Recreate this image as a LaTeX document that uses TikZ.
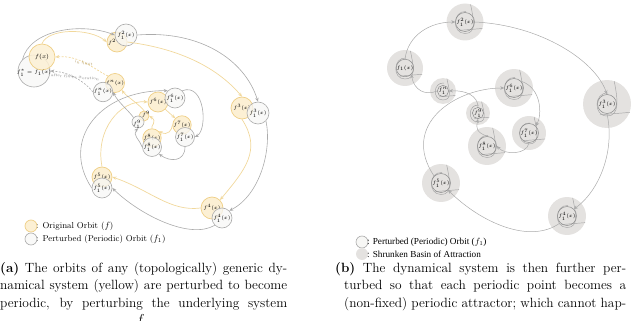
\documentclass[tikz,border=0pt]{standalone}
\usepackage{fontspec}
\newfontfamily\legfont{Liberation Serif}
\usetikzlibrary{arrows.meta}
\definecolor{yfill}{HTML}{FCF0D4}
\definecolor{ydraw}{HTML}{EFCF86}
\definecolor{yline}{HTML}{F1D89C}
\definecolor{gdraw}{HTML}{ABABAB}
\definecolor{gfill}{HTML}{F7F7F5}
\definecolor{gline}{HTML}{ABABAB}
\definecolor{bfill}{HTML}{E4E2E0}
\definecolor{bline}{HTML}{8C8C8C}
\newcommand\lblfont{\fontsize{5.5}{6}\selectfont}
\newcommand\smlfont{\fontsize{4}{4.5}\selectfont}
\newcommand\tinyfont{\fontsize{3.3}{3.5}\selectfont}
\newcommand\capfont{\fontsize{13.4}{16}\selectfont}
\newcommand\basin[6]{%
  \fill[bfill] (#2,#3) circle[radius=#4];
  \draw[squig] ({#2+0.3*#4},{#3-0.95*#4}) .. controls ({#2+0.45*#4},{#3-0.2*#4}) and ({#2+#5+5},{#3+#5+4}) .. ({#2},{#3+#5+4}) .. controls ({#2-#5-6},{#3+#5+4}) and ({#2-#5-5},{#3-#5-4}) .. ({#2+1},{#3-#5-3});
  \draw[squig] ({#2+0.95*#4},{#3+0.35*#4}) -- ({#2-0.3*#4},{#3+0.45*#4});
  \node[icirc, minimum size=2*#5pt] (#1) at (#2,#3) {#6};
}
\begin{document}
\begin{tikzpicture}[x=1pt,y=-1pt,
  ycirc/.style={circle, draw=ydraw, fill=yfill, line width=0.7pt, inner sep=0pt, font=\lblfont},
  gcirc/.style={circle, draw=gdraw, fill=gfill, fill opacity=0.75, text opacity=1, line width=0.6pt, inner sep=0pt, font=\lblfont},
  icirc/.style={circle, draw=bline, line width=0.5pt, inner sep=0pt, font=\smlfont},
  squig/.style={draw=bline!80, line width=0.45pt},
  arrtip/.style={-{Stealth[length=4pt,width=3.4pt]}},
  yarr/.style={draw=yline, line width=0.7pt, arrtip},
  garr/.style={draw=gline, line width=0.6pt, arrtip},
  barr/.style={draw=gline, line width=0.5pt, arrtip},
  ydash/.style={yarr, dash pattern=on 2pt off 1.5pt},
  gdash/.style={garr, dash pattern=on 2pt off 1.5pt},
  capline/.style={anchor=base west, inner sep=0pt, font=\capfont},
  legtext/.style={anchor=west, inner sep=0pt, font=\fontsize{8.6}{9}\selectfont},
  legtextb/.style={anchor=west, inner sep=0pt, font=\legfont\fontsize{9.2}{10}\selectfont}
]
\useasboundingbox (0,0) rectangle (640,321);
\clip (0,0) rectangle (640,321);

% ---------------- panel (a) ----------------
\node[gcirc, minimum size=32pt] (ga1) at (34,71) {};
\node[ycirc, minimum size=26pt, fill opacity=0.85, text opacity=1, font=\fontsize{6.3}{7}\selectfont] (ya1) at (42,57) {$f(x)$};
\node[font=\lblfont] (ga1l) at (34,73) {$f_1^*=f_1(x)$};
\node[ycirc, minimum size=20pt] (ya2) at (117,42) {};
\node[gcirc, minimum size=22pt] (ga2) at (126,35) {$f_1^2(x)$};
\node[font=\lblfont] (ya2l) at (112,42) {$f^2$};
\node[ycirc, minimum size=22pt] (ya3) at (242,108) {$f^3(x)$};
\node[gcirc, minimum size=22pt] (ga3) at (258,113) {$f_1^3(x)$};
\node[ycirc, minimum size=22pt] (ya4) at (212,208) {$f^4(x)$};
\node[gcirc, minimum size=20pt] (ga4) at (222,218) {$f_1^4(x)$};
\node[ycirc, minimum size=20pt] (ya5) at (102,177) {$f^5(x)$};
\node[gcirc, minimum size=20pt] (ga5) at (102,188) {$f_1^5(x)$};
\node[ycirc, minimum size=20pt] (ya6) at (158,102) {$f^6(x)$};
\node[gcirc, minimum size=20pt] (ga6) at (175,98) {$f_1^6(x)$};
\node[ycirc, minimum size=16pt] (ya7) at (182,125) {$f^7(x)$};
\node[gcirc, minimum size=16pt] (ga7) at (185,137) {$f_1^7(x)$};
\node[ycirc, minimum size=16pt] (ya8) at (152,138) {$f^8(x)$};
\node[gcirc, minimum size=16pt] (ga8) at (152,147) {$f_1^8(x)$};
\node[ycirc, minimum size=10pt] (ya9) at (144,116) {};
\node[gcirc, minimum size=12pt] (ga9) at (138,122) {};
\node[font=\tinyfont] (ya9l) at (146,114) {$f^9$};
\node[font=\tinyfont] (ga9l) at (137,124) {$f_1^9$};
\node[ycirc, minimum size=14pt] (ya10) at (115,83) {$f^n(x)$};
\node[gcirc, minimum size=16pt] (ga10) at (103,92) {$f_1^n(x)$};

% yellow (original) orbit
\draw[yarr] (ya1.north) .. controls (48,28) and (90,28) .. (ya2.west);
\draw[yarr] (ya2.east) .. controls (175,48) and (215,65) .. (ya3.north);
\draw[yarr] (ya3.south) .. controls (262,150) and (245,170) .. (ya4.north east);
\draw[yarr] (ya4.west) .. controls (170,212) and (150,190) .. (ya5.east);
\draw[yarr] (ya5.north) .. controls (95,130) and (120,100) .. (ya6.west);
\draw[yarr] (ya6.south east) -- (ya7.north west);
\draw[yarr] (ya7.west) .. controls (172,130) and (168,136) .. (ya8.north east);
\draw[yarr] (ya8.north) .. controls (150,126) and (158,122) .. (ya9.east);
\draw[yarr] (ya9.north) .. controls (140,105) and (125,95) .. (ya10.south east);
\draw[ydash] (ya10.north west) .. controls (95,70) and (80,55) .. (ya1.east);
% grey (perturbed) orbit
\draw[garr] (ga1.north west) .. controls (30,30) and (80,22) .. (ga2.west);
\draw[garr] (ga2.east) .. controls (200,30) and (245,60) .. (ga3.north);
\draw[garr] (ga3.south east) .. controls (272,150) and (260,195) .. (ga4.north east);
\draw[garr] (ga4.south west) .. controls (190,240) and (140,215) .. (ga5.east);
\draw[garr] (ga5.west) .. controls (60,140) and (100,90) .. (ga6.north west);
\draw[garr] (ga6.north east) .. controls (205,82) and (208,130) .. (ga7.east);
\draw[garr] (ga7.south) .. controls (185,162) and (170,162) .. (ga8.south east);
\draw[garr] (ga8.west) .. controls (140,140) and (132,135) .. (ga9.south);
\draw[garr] (ga9.north west) .. controls (128,110) and (118,102) .. (ga10.east);
\draw[gdash] (ga10.west) .. controls (85,82) and (70,72) .. (ga1.east);
\node[font=\smlfont, text=ydraw!75!black, rotate=-10] (lim) at (84,63) {in limit};
\node[font=\smlfont, text=gdraw!80!black, rotate=-5] (aft) at (75,77) {after finite iteration};

% legend (a)
\node[ycirc, minimum size=12pt] (lya) at (31,226) {};
\node[gcirc, minimum size=12pt] (lga) at (31,239) {};
\node[legtext] (lyat) at (36,226) {: Original Orbit ($f$)};
\node[legtext] (lgat) at (36,239) {: Perturbed (Periodic) Orbit ($f_1$)};

% caption (a)
\node[capline] (ca1) at (0,272) {\makebox[287pt][s]{\textbf{(a)} The orbits of any (topologically) generic dy-}};
\node[capline] (ca2) at (0,289.5) {\makebox[287pt][s]{namical system (yellow) are perturbed to become}};
\node[capline] (ca3) at (0,307) {\makebox[287pt][s]{periodic, by perturbing the underlying system}};
\node[capline] (ca4) at (136,324) {$f$};

% ---------------- panel (b) ----------------
\basin{b1}{405}{68}{18}{7}{$f_1(x)$}
\basin{b2}{465}{22}{18.5}{7.5}{$f_1^2(x)$}
\basin{b3}{607}{104}{24}{8}{$f_1^3(x)$}
\basin{b4}{567}{216}{19}{7.5}{$f_1^4(x)$}
\basin{b5}{441}{183}{19}{7.5}{$f_1^5(x)$}
\basin{b6}{514}{88}{19}{7.5}{$f_1^6(x)$}
\basin{b7}{529}{133}{17}{7}{$f_1^7(x)$}
\basin{b8}{487}{146}{19}{7.5}{$f_1^8(x)$}
\basin{b9}{478}{113}{12}{5}{$f_1^9$}
\basin{b10}{443}{91}{13}{5}{$f_1^n$}

\draw[barr] (b1.north) .. controls (408,35) and (430,22) .. (b2.west);
\draw[barr] (b2.east) .. controls (540,25) and (595,60) .. (b3.north);
\draw[barr] (b3.south) .. controls (615,150) and (600,190) .. (b4.north east);
\draw[barr] (b4.south west) .. controls (530,245) and (480,222) .. (b5.south east);
\draw[barr] (b5.north west) .. controls (400,125) and (455,88) .. (b6.west);
\draw[barr] (b6.north east) .. controls (542,88) and (542,115) .. (b7.north east);
\draw[barr] (b7.south) .. controls (527,155) and (505,155) .. (b8.east);
\draw[barr] (b8.north) .. controls (476,132) and (476,128) .. (b9.south);
\draw[barr] (b9.north) .. controls (478,96) and (466,90) .. (b10.east);
\draw[barr] (b10.west) .. controls (425,96) and (414,90) .. (b1.south east);

% legend (b)
\node[circle, draw=gdraw, fill=gfill, line width=0.6pt, minimum size=12pt, inner sep=0pt] (lgb) at (362,242) {};
\node[circle, fill=bfill, minimum size=12pt, inner sep=0pt] (lbb) at (362,254) {};
\node[legtextb] (lgbt) at (367,242) {: Perturbed (Periodic) Orbit ($f_1$)};
\node[legtextb] (lbbt) at (367,254) {: Shrunken Basin of Attraction};

% caption (b)
\node[capline] (cb1) at (335,272) {\makebox[291pt][s]{\textbf{(b)} The dynamical system is then further per-}};
\node[capline] (cb2) at (344,289.5) {\makebox[282pt][s]{turbed so that each periodic point becomes a}};
\node[capline] (cb3) at (344,307) {\makebox[282pt][s]{(non-fixed) periodic attractor; which cannot hap-}};
\end{tikzpicture}
\end{document}
